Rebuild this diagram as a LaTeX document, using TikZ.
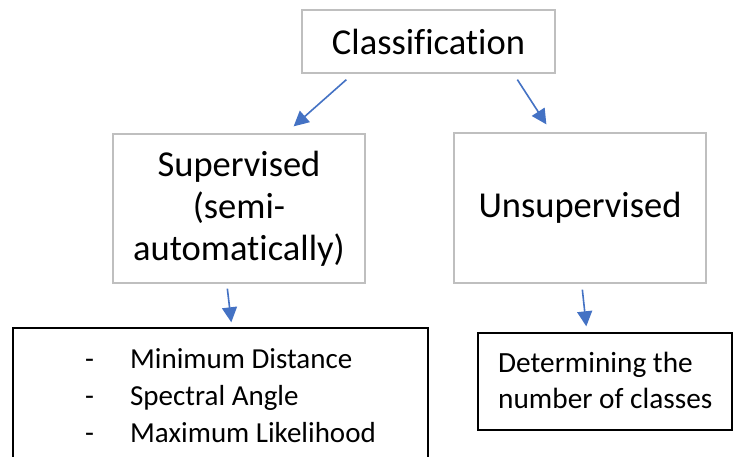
\documentclass[tikz,border=0pt]{standalone}
\usepackage{fontspec}
\setmainfont[Ligatures=NoCommon]{Carlito}
\usetikzlibrary{arrows.meta,calc}
\definecolor{boxgray}{HTML}{BFBFBF}
\definecolor{arrowblue}{HTML}{4472C4}
\tikzset{
  bigbox/.style={draw=boxgray, line width=1.3pt, fill=white, inner sep=0pt,
    align=center, font=\fontsize{36.5}{42}\selectfont},
  listbox/.style={draw=black, line width=1.4pt, fill=white, inner sep=0pt},
  smalltext/.style={inner sep=0pt, align=left, font=\fontsize{29}{37}\selectfont},
  flow/.style={draw=arrowblue, line width=1.6pt,
    -{Triangle[length=15pt,width=15pt]}}
}
\begin{document}
\begin{tikzpicture}[x=1pt,y=-1pt]
  \clip (0,0) rectangle (734,457);
  \fill[white] (0,0) rectangle (734,457);

  % top level
  \node[bigbox, minimum width=253pt, minimum height=63pt] (cls) at (428.5,41.5) {Classification};

  % second level
  \node[bigbox, minimum width=252pt, minimum height=149pt] (sup) at (239,208.5)
    {Supervised\\(semi-\\automatically)};
  \node[bigbox, minimum width=252pt, minimum height=150pt] (uns) at (580,208)
    {Unsupervised};

  % leaf boxes
  \node[listbox, minimum width=415pt, minimum height=140pt] (lbox) at (220.5,398) {};
  \node[smalltext, anchor=west] (ltext) at (85,396)
    {\makebox[45pt][l]{-}Minimum Distance\\
     \makebox[45pt][l]{-}Spectral Angle\\
     \makebox[45pt][l]{-}Maximum Likelihood};
  \node[listbox, minimum width=254pt, minimum height=97pt] (rbox) at (605,381.5) {};
  \node[smalltext, anchor=west, font=\fontsize{29.3}{36}\selectfont] (rtext) at (498,380)
    {Determining the\\number of classes};

  % connectors
  \draw[flow] ($(cls.south west)+(45,6)$) -- ($(sup.north east)+(-72,-7)$);
  \draw[flow] ($(cls.south west)+(216,6)$) -- ($(uns.north west)+(93,-8)$);
  \draw[flow] ($(sup.south west)+(115,5)$) -- ($(lbox.north west)+(219,-5)$);
  \draw[flow] ($(uns.south west)+(129,6)$) -- ($(rbox.north west)+(109,-6)$);
\end{tikzpicture}
\end{document}
